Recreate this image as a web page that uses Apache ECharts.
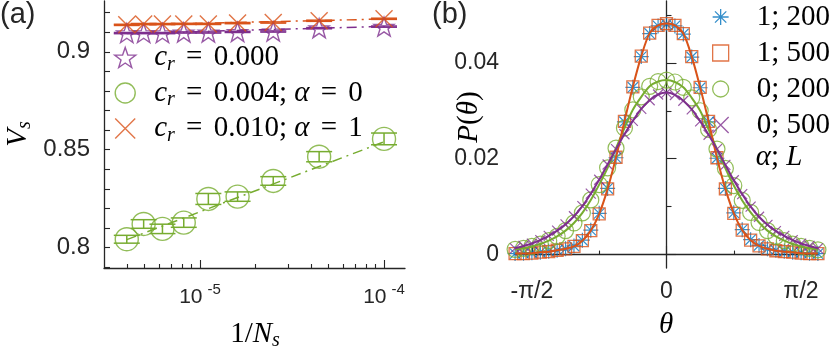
<!DOCTYPE html>
<html><head><meta charset="utf-8">
<script src="https://cdn.jsdelivr.net/npm/echarts@6/dist/echarts.min.js"></script>
<style>html,body{margin:0;padding:0;background:#fff}#c{width:830px;height:348px}</style>
</head><body><div id="c"></div>
<script>
// ---------- Panel (a) data ----------
const invNs = [4.0e-6, 4.94e-6, 6.25e-6, 8.16e-6, 1.11e-5, 1.6e-5, 2.5e-5, 4.44e-5, 1.0e-4];
const vsCr000 = [0.9096, 0.9096, 0.9096, 0.9099, 0.9099, 0.9102, 0.9104, 0.9121, 0.9129];
const errCr000 = [0.0003, 0.0003, 0.0003, 0.0003, 0.0003, 0.0003, 0.0003, 0.0003, 0.0003];
const vsCr004 = [0.8042, 0.8120, 0.8095, 0.8127, 0.8248, 0.8260, 0.8340, 0.8464, 0.8555];
const errCr004 = [0.0020, 0.0022, 0.0024, 0.0024, 0.0028, 0.0024, 0.0022, 0.0026, 0.0030];
const vsCr010 = [0.9138, 0.9142, 0.9142, 0.9143, 0.9143, 0.9147, 0.9150, 0.9159, 0.9169];
const errCr010 = [0.0003, 0.0003, 0.0003, 0.0003, 0.0003, 0.0003, 0.0003, 0.0003, 0.0003];
const fitX = [4.0e-6, 1.0e-4];
const fitCr000 = [0.9094, 0.9130];
const fitCr004 = [0.8040, 0.8540];
const fitCr010 = [0.9137, 0.9168];
const aYTicks = [0.79,0.80,0.81,0.82,0.83,0.84,0.85,0.86,0.87,0.88,0.89,0.90,0.91,0.92];
const aYLabels = [0.8, 0.85, 0.9];
const aXMajor = [1e-5, 1e-4];
const aXMinor = [4e-6,5e-6,6e-6,7e-6,8e-6,9e-6,2e-5,3e-5,4e-5,5e-5,6e-5,7e-5,8e-5,9e-5];
const aLegend = ['c_r = 0.000', 'c_r = 0.004; α = 0', 'c_r = 0.010; α = 1'];

// ---------- Panel (b) data ----------
const theta = [-1.7671,-1.6690,-1.5708,-1.4726,-1.3744,-1.2763,-1.1781,-1.0799,-0.9817,-0.8836,-0.7854,-0.6872,-0.5890,-0.4909,-0.3927,-0.2945,-0.1963,-0.0982,0,0.0982,0.1963,0.2945,0.3927,0.4909,0.5890,0.6872,0.7854,0.8836,0.9817,1.0799,1.1781,1.2763,1.3744,1.4726,1.5708,1.6690,1.7671];
const pA1L200 = [0.0002,0.0003,0.0004,0.0005,0.0007,0.0009,0.0012,0.0018,0.0030,0.0051,0.0086,0.0138,0.0202,0.0277,0.0349,0.0413,0.0461,0.0477,0.0481,0.0477,0.0460,0.0412,0.0348,0.0277,0.0201,0.0138,0.0087,0.0052,0.0031,0.0019,0.0012,0.0009,0.0007,0.0005,0.0004,0.0003,0.0002];
const pA1L500 = [0.0002,0.0002,0.0003,0.0005,0.0006,0.0009,0.0012,0.0017,0.0029,0.0050,0.0085,0.0137,0.0203,0.0278,0.0350,0.0414,0.0462,0.0478,0.0482,0.0478,0.0461,0.0413,0.0349,0.0278,0.0202,0.0137,0.0086,0.0051,0.0030,0.0018,0.0012,0.0008,0.0006,0.0005,0.0003,0.0002,0.0002];
const pA0L200 = [0.0011,0.0013,0.0017,0.0022,0.0029,0.0038,0.0050,0.0066,0.0087,0.0114,0.0146,0.0181,0.0222,0.0264,0.0302,0.0329,0.0351,0.0361,0.0364,0.0360,0.0349,0.0327,0.0300,0.0261,0.0220,0.0180,0.0144,0.0113,0.0088,0.0067,0.0050,0.0038,0.0029,0.0022,0.0017,0.0013,0.0010];
const pA0L500 = [0.0013,0.0018,0.0023,0.0030,0.0039,0.0050,0.0063,0.0080,0.0101,0.0127,0.0156,0.0188,0.0220,0.0251,0.0279,0.0304,0.0322,0.0334,0.0338,0.0333,0.0321,0.0303,0.0278,0.0250,0.0220,0.0187,0.0155,0.0126,0.0100,0.0079,0.0062,0.0049,0.0039,0.0030,0.0023,0.0018,0.0013];
const bXMajor = [-Math.PI/2, 0, Math.PI/2];
const bXMinor = [-Math.PI/4, Math.PI/4];
const bXLabels = ['-π/2', '0', 'π/2'];
const bYMajor = [0, 0.02, 0.04];
const bYMinor = [0.01, 0.03, 0.05];
const bLegend = ['1; 200', '1; 500', '0; 200', '0; 500'];

// ---------- styles ----------
const C = {blue:'#0072BD', orange:'#D95319', green:'#77AC30', purple:'#7E2F8E', axis:'#262626'};
const SERIF = 'Liberation Serif';
const SANS = 'Liberation Sans';
const STAR = 'path://M0,-10L2.351,-3.236L9.511,-3.09L3.804,1.236L5.878,8.09L0,4L-5.878,8.09L-3.804,1.236L-9.511,-3.09L-2.351,-3.236Z';
const ASTER = 'path://M0,-10L0,10M-10,0L10,0M-7.07,-7.07L7.07,7.07M-7.07,7.07L7.07,-7.07';
const CROSS = 'path://M-10,-10L10,10M-10,10L10,-10';
const SQUARE = 'path://M-10,-10L10,-10L10,10L-10,10Z';
const hollow = (c, w) => ({color:'rgba(0,0,0,0)', borderColor:c, borderWidth:w});
const zip = (xs, ys) => xs.map((x, i) => [x, ys[i]]);
const zip3 = (xs, ys, es) => xs.map((x, i) => [x, ys[i], es[i]]);
const axisLine = {show:true, lineStyle:{color:C.axis, width:1.3}};
const tickLine = {color:C.axis, width:1.1};

function errRender(color) {
  return function (params, api) {
    const x = api.value(0), y = api.value(1), e = api.value(2);
    const lo = api.coord([x, y - e]), hi = api.coord([x, y + e]);
    const hw = 13, st = {stroke: color, lineWidth: 1.5};
    return {type:'group', children:[
      {type:'line', shape:{x1:lo[0], y1:lo[1], x2:hi[0], y2:hi[1]}, style:st},
      {type:'line', shape:{x1:lo[0]-hw, y1:lo[1], x2:lo[0]+hw, y2:lo[1]}, style:st},
      {type:'line', shape:{x1:hi[0]-hw, y1:hi[1], x2:hi[0]+hw, y2:hi[1]}, style:st}
    ]};
  };
}

const serifRich = {
  n: {fontFamily:SERIF, fontSize:29, lineHeight:34, color:'#000'},
  e: {fontFamily:SERIF, fontSize:29, lineHeight:34, color:'#000', padding:[0,4,0,4]},
  i: {fontFamily:SERIF, fontStyle:'italic', fontSize:29, lineHeight:34, color:'#000'},
  sub: {fontFamily:SERIF, fontStyle:'italic', fontSize:20, lineHeight:16, verticalAlign:'bottom', color:'#000'}
};
function legendA(name) {
  let body = name.slice(3).replace(/=/g, '}{e|=}{n|').replace('α', '}{i|α}{n|');
  return '{i|c}{sub|r}{n|' + body + '}';
}

const option = {
  animation: false,
  backgroundColor: '#fff',
  grid: [
    {left:104, top:1, width:301, height:267},
    {left:515, top:1, width:303, height:267}
  ],
  xAxis: [
    {type:'log', gridIndex:0, position:'bottom', min:3.008e-6, max:1.30e-4,
     axisLine, splitLine:{show:false},
     axisTick:{show:true, inside:true, length:8, customValues:aXMajor, lineStyle:tickLine},
     axisLabel:{customValues:aXMajor, margin:14, fontFamily:SANS, fontSize:21, color:C.axis,
       formatter: v => '{b|10}{s|' + Math.round(Math.log10(v)) + '}',
       rich:{b:{fontFamily:SANS, fontSize:21, lineHeight:30, color:C.axis},
             s:{fontFamily:SANS, fontSize:15, lineHeight:15, verticalAlign:'top', color:C.axis, padding:[0,0,0,5]}}}},
    {type:'log', gridIndex:0, position:'bottom', min:3.008e-6, max:1.30e-4,
     axisLine:{show:false}, splitLine:{show:false}, axisLabel:{show:false},
     axisTick:{show:true, inside:true, length:4, customValues:aXMinor, lineStyle:tickLine}},
    {type:'value', gridIndex:1, position:'bottom', min:-1.768, max:1.768,
     axisLine, splitLine:{show:false},
     axisTick:{show:true, inside:true, length:9, customValues:bXMajor, lineStyle:tickLine},
     axisLabel:{customValues:bXMajor, margin:12, fontFamily:SANS, fontSize:23, color:C.axis,
       formatter: v => bXLabels[bXMajor.findIndex(t => Math.abs(t - v) < 1e-6)]}},
    {type:'value', gridIndex:1, position:'bottom', min:-1.768, max:1.768,
     axisLine:{show:false}, splitLine:{show:false}, axisLabel:{show:false},
     axisTick:{show:true, inside:true, length:4, customValues:bXMinor, lineStyle:tickLine}}
  ],
  yAxis: [
    {type:'value', gridIndex:0, position:'left', min:0.7895, max:0.926,
     axisLine, splitLine:{show:false},
     axisTick:{show:true, inside:true, length:6, customValues:aYTicks, lineStyle:tickLine},
     axisLabel:{customValues:aYLabels, margin:14, fontFamily:SANS, fontSize:24, color:C.axis}},
    {type:'value', gridIndex:1, position:'left', min:-0.0028, max:0.0529,
     axisLine, splitLine:{show:false},
     axisTick:{show:true, inside:true, length:10, customValues:bYMajor, lineStyle:tickLine},
     axisLabel:{customValues:bYMajor, margin:16, fontFamily:SANS, fontSize:23, color:C.axis}},
    {type:'value', gridIndex:1, position:'left', min:-0.0028, max:0.0529,
     axisLine:{show:false}, splitLine:{show:false}, axisLabel:{show:false},
     axisTick:{show:true, inside:true, length:5, customValues:bYMinor, lineStyle:tickLine}}
  ],
  legend: [
    {orient:'vertical', left:114, top:43, padding:0, itemWidth:48, itemHeight:20, itemGap:4,
     selectedMode:false, formatter: legendA, textStyle:{rich:serifRich},
     data:[
       {name:aLegend[0], icon:STAR, itemStyle:hollow(C.purple,1.4)},
       {name:aLegend[1], icon:'circle', itemStyle:hollow(C.green,1.4)},
       {name:aLegend[2], icon:CROSS, itemStyle:hollow(C.orange,1.4)}
     ]},
    {orient:'vertical', left:712, top:0, padding:0, itemWidth:62, itemHeight:16, itemGap:2,
     selectedMode:false, symbolKeepAspect:true,
     textStyle:{fontFamily:SERIF, fontSize:29, lineHeight:34, color:'#000', width:50, overflow:'none'},
     data:[
       {name:bLegend[0], icon:ASTER, itemStyle:hollow(C.blue,1.3)},
       {name:bLegend[1], icon:SQUARE, itemStyle:hollow(C.orange,1.3)},
       {name:bLegend[2], icon:'circle', itemStyle:hollow(C.green,1.3)},
       {name:bLegend[3], icon:CROSS, itemStyle:hollow(C.purple,1.3)}
     ]}
  ],
  graphic: [
    {type:'text', left:0, top:0, style:{text:'(a)', fontFamily:SANS, fontSize:29, fill:C.axis}},
    {type:'text', left:432, top:0, style:{text:'(b)', fontFamily:SANS, fontSize:29, fill:C.axis}},
    {type:'text', x:779, y:157, style:{text:'{i|α}{n|; }{i|L}', align:'center', verticalAlign:'middle', rich:serifRich}},
    {type:'text', x:255, y:334, style:{text:'{n|1/}{i|N}{sub|s}', align:'center', verticalAlign:'middle', rich:serifRich}},
    {type:'text', x:18, y:134, rotation:Math.PI/2, style:{text:'{i|V}{sub|s}', align:'center', verticalAlign:'middle', rich:serifRich}},
    {type:'text', x:666, y:325, style:{text:'{i|θ}', align:'center', verticalAlign:'middle', rich:serifRich}},
    {type:'text', x:469, y:117, rotation:Math.PI/2, style:{text:'{i|P}{n|(}{i|θ}{n|)}', align:'center', verticalAlign:'middle', rich:serifRich}}
  ],
  series: [
    {type:'line', name:'fit0', xAxisIndex:0, yAxisIndex:0, data:zip(fitX, fitCr000), symbol:'none',
     lineStyle:{color:C.purple, width:1.5, type:[10,5,2,5]}, z:2},
    {type:'line', name:'fit4', xAxisIndex:0, yAxisIndex:0, data:zip(fitX, fitCr004), symbol:'none',
     lineStyle:{color:C.green, width:1.5, type:[10,5,2,5]}, z:2},
    {type:'line', name:'fit10', xAxisIndex:0, yAxisIndex:0, data:zip(fitX, fitCr010), symbol:'none',
     lineStyle:{color:C.orange, width:1.5, type:[10,5,2,5]}, z:2},
    {type:'custom', name:'err0', xAxisIndex:0, yAxisIndex:0, data:zip3(invNs, vsCr000, errCr000),
     renderItem:errRender(C.purple), encode:{x:0, y:1}, z:3},
    {type:'custom', name:'err4', xAxisIndex:0, yAxisIndex:0, data:zip3(invNs, vsCr004, errCr004),
     renderItem:errRender(C.green), encode:{x:0, y:1}, z:3},
    {type:'custom', name:'err10', xAxisIndex:0, yAxisIndex:0, data:zip3(invNs, vsCr010, errCr010),
     renderItem:errRender(C.orange), encode:{x:0, y:1}, z:3},
    {type:'scatter', name:aLegend[0], xAxisIndex:0, yAxisIndex:0, data:zip(invNs, vsCr000),
     symbol:STAR, symbolSize:20, symbolKeepAspect:true, itemStyle:hollow(C.purple,1.4), z:4},
    {type:'scatter', name:aLegend[1], xAxisIndex:0, yAxisIndex:0, data:zip(invNs, vsCr004),
     symbol:'circle', symbolSize:23, itemStyle:hollow(C.green,1.4), z:4},
    {type:'scatter', name:aLegend[2], xAxisIndex:0, yAxisIndex:0, data:zip(invNs, vsCr010),
     symbol:CROSS, symbolSize:17, itemStyle:hollow(C.orange,1.4), z:5},
    {type:'scatter', name:bLegend[0], xAxisIndex:2, yAxisIndex:1, data:zip(theta, pA1L200),
     symbol:ASTER, symbolSize:15, itemStyle:hollow(C.blue,1.2), z:4},
    {type:'scatter', name:bLegend[1], xAxisIndex:2, yAxisIndex:1, data:zip(theta, pA1L500),
     symbol:'rect', symbolSize:12, itemStyle:hollow(C.orange,1.3), z:4},
    {type:'scatter', name:bLegend[2], xAxisIndex:2, yAxisIndex:1, data:zip(theta, pA0L200),
     symbol:'circle', symbolSize:16, itemStyle:hollow(C.green,1.2), z:4},
    {type:'scatter', name:bLegend[3], xAxisIndex:2, yAxisIndex:1, data:zip(theta, pA0L500),
     symbol:CROSS, symbolSize:10, itemStyle:hollow(C.purple,1.2), z:4},
    {type:'line', name:'lineA0L200', xAxisIndex:2, yAxisIndex:1, data:zip(theta, pA0L200), symbol:'none', smooth:0.3,
     lineStyle:{color:C.green, width:2}, z:5},
    {type:'line', name:'lineA1L500', xAxisIndex:2, yAxisIndex:1, data:zip(theta, pA1L500), symbol:'none', smooth:0.3,
     lineStyle:{color:C.orange, width:2}, z:5},
    {type:'line', name:'lineA0L500', xAxisIndex:2, yAxisIndex:1, data:zip(theta, pA0L500), symbol:'none', smooth:0.3,
     lineStyle:{color:C.purple, width:2}, z:5}
  ]
};
const chart = echarts.init(document.getElementById('c'));
chart.setOption(option);
</script></body></html>
